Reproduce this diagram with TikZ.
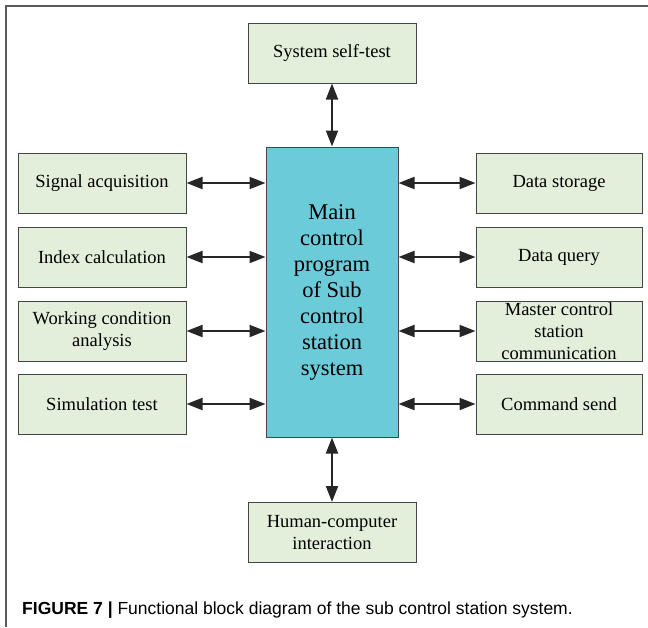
\documentclass[tikz,border=0pt]{standalone}
\usepackage{fontspec}
\setmainfont{Liberation Serif}
\newfontfamily\capfont{Liberation Sans}
\usetikzlibrary{arrows.meta}
\definecolor{boxgreen}{RGB}{227,239,219}
\definecolor{maincyan}{RGB}{108,203,217}
\definecolor{edgegray}{RGB}{70,70,70}
\definecolor{framegray}{RGB}{90,90,90}
\tikzset{
  funcbox/.style={draw=edgegray, line width=1pt, fill=boxgreen, minimum width=168pt,
    minimum height=60pt, inner sep=0pt, align=center, font=\fontsize{18.5}{21.7}\selectfont},
  mainbox/.style={draw=edgegray, line width=1pt, fill=maincyan, minimum width=132pt,
    minimum height=290pt, inner sep=0pt, align=center, font=\fontsize{22.5}{26}\selectfont},
  link/.style={line width=2pt, draw=black!85, {Triangle[length=16pt,width=12pt]}-{Triangle[length=16pt,width=12pt]}}
}
\begin{document}
\begin{tikzpicture}[x=1pt, y=-1pt]
\useasboundingbox (0,0) rectangle (648,627);
% frame lines
\draw[framegray, line width=1.5pt] (6,627) -- (6,6) -- (648,6);

% central block
\node[mainbox] (main) at (332,292) {Main\\control\\program\\of Sub\\control\\station\\system};

% top and bottom blocks
\node[funcbox] (self) at (332,53) {System self-test};
\node[funcbox] (hci) at (332,532.5) {Human-computer\\interaction};

% left column
\node[funcbox] (sig) at (102,183) {Signal acquisition};
\node[funcbox] (idx) at (102,257) {Index calculation};
\node[funcbox] (work) at (102,331) {Working condition\\analysis};
\node[funcbox] (sim) at (102,404) {Simulation test};

% right column
\node[funcbox, minimum width=166pt] (store) at (559,183) {Data storage};
\node[funcbox, minimum width=166pt] (query) at (559,257) {Data query};
\node[funcbox, minimum width=166pt] (master) at (559,331) {Master control\\station\\communication};
\node[funcbox, minimum width=166pt] (cmd) at (559,404) {Command send};

% connectors
\draw[link] (self.south) -- (main.north);
\draw[link] (main.south) -- (hci.north);
\foreach \b in {sig,idx,work,sim}
  \draw[link] (\b.east) -- (\b.east -| main.west);
\foreach \b in {store,query,master,cmd}
  \draw[link] (\b.west -| main.east) -- (\b.west);

% caption
\node[anchor=base west, inner sep=0pt, font=\capfont\fontsize{17.5}{20}\selectfont] (cap) at (22,614)
  {\textbf{FIGURE 7 |} Functional block diagram of the sub control station system.};
\end{tikzpicture}
\end{document}
